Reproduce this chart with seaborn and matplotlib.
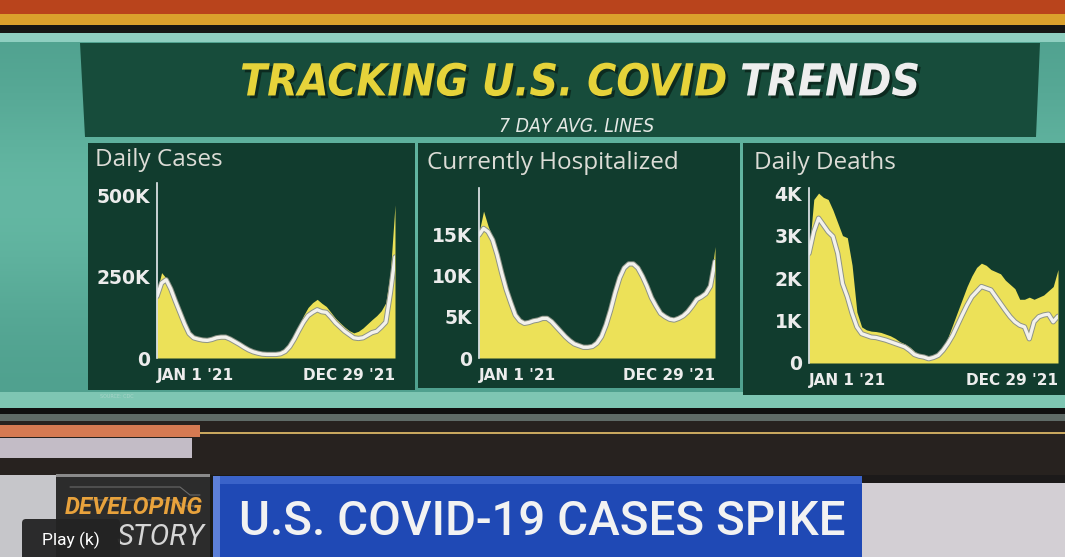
import numpy as np
import pandas as pd
import seaborn as sns
import matplotlib.pyplot as plt
import matplotlib.patheffects as pe
from matplotlib.patches import Rectangle, Polygon, FancyBboxPatch

W, H = 1065, 557

# weekly points, Jan 1 2021 .. Dec 31 2021
weeks = pd.date_range("2021-01-01", "2021-12-31", freq="7D")

# daily cases, thousands
cases_avg = [189, 230, 240, 212, 175, 140, 105, 75, 62, 58, 55, 54, 57, 62, 64, 64, 58, 50,
             42, 33, 25, 19, 15, 12, 11, 11, 11, 13, 20, 35, 58, 85, 110, 130, 140, 148, 142,
             140, 125, 108, 95, 82, 72, 62, 60, 62, 70, 78, 82, 95, 110, 200, 310]
cases_daily = [205, 262, 245, 218, 180, 145, 110, 80, 66, 62, 58, 58, 62, 67, 69, 67, 61, 52,
               44, 35, 27, 21, 16, 13, 12, 12, 12, 15, 24, 42, 68, 100, 130, 155, 170, 180, 168,
               158, 140, 122, 108, 95, 84, 77, 82, 92, 105, 118, 130, 145, 170, 265, 470]

# currently hospitalized, thousands
hosp_avg = [14.9, 15.7, 15.3, 14.3, 12.5, 10.3, 8.3, 6.7, 5.2, 4.5, 4.2, 4.3, 4.5, 4.6, 4.8,
            4.8, 4.4, 3.8, 3.2, 2.6, 2.1, 1.7, 1.5, 1.3, 1.3, 1.4, 1.8, 2.6, 4.0, 5.8, 7.9, 9.7,
            10.9, 11.4, 11.4, 10.9, 9.9, 8.7, 7.3, 6.3, 5.4, 5.0, 4.7, 4.6, 4.8, 5.1, 5.6, 6.3,
            7.1, 7.4, 7.8, 8.7, 11.7]
hosp_daily = [15.2, 17.8, 16.0, 14.6, 12.8, 10.6, 8.6, 6.9, 5.4, 4.7, 4.4, 4.5, 4.7, 4.8, 5.0,
              5.0, 4.6, 4.0, 3.4, 2.8, 2.3, 1.9, 1.6, 1.5, 1.5, 1.6, 2.0, 2.8, 4.2, 6.0, 8.1, 9.9,
              11.1, 11.6, 11.6, 11.1, 10.1, 8.9, 7.5, 6.5, 5.6, 5.2, 4.9, 4.8, 5.0, 5.3, 5.8, 6.5,
              7.3, 7.2, 8.0, 9.0, 13.5]

# daily deaths, thousands
deaths_avg = [2.58, 3.09, 3.41, 3.25, 3.09, 2.98, 2.58, 1.87, 1.56, 1.17, 0.85, 0.69, 0.65,
              0.61, 0.60, 0.57, 0.54, 0.50, 0.46, 0.42, 0.38, 0.30, 0.20, 0.16, 0.14, 0.10,
              0.13, 0.18, 0.30, 0.46, 0.65, 0.89, 1.13, 1.36, 1.56, 1.68, 1.80, 1.76, 1.72,
              1.56, 1.40, 1.24, 1.09, 0.97, 0.89, 0.85, 0.57, 0.97, 1.09, 1.13, 1.15, 0.97, 1.10]
deaths_daily = [2.60, 3.85, 4.00, 3.90, 3.85, 3.60, 3.30, 3.00, 2.95, 2.30, 1.20, 0.85, 0.78,
                0.75, 0.74, 0.72, 0.68, 0.64, 0.58, 0.50, 0.45, 0.38, 0.28, 0.20, 0.17, 0.13,
                0.15, 0.22, 0.36, 0.60, 0.90, 1.20, 1.50, 1.80, 2.05, 2.25, 2.35, 2.30, 2.20,
                2.15, 2.10, 1.95, 1.85, 1.75, 1.50, 1.50, 1.55, 1.50, 1.55, 1.60, 1.70, 1.80, 2.20]

panel_titles = ["Daily Cases", "Currently Hospitalized", "Daily Deaths"]
series = [(cases_avg, cases_daily), (hosp_avg, hosp_daily), (deaths_avg, deaths_daily)]
y_ticks = [[0, 250, 500], [0, 5, 10, 15], [0, 1, 2, 3, 4]]
y_labels = [["0", "250K", "500K"], ["0", "5K", "10K", "15K"], ["0", "1K", "2K", "3K", "4K"]]
y_tops = [537, 20.6, 4.12]
x_labels = ["JAN 1 '21", "DEC 29 '21"]

sns.set_theme(style="white")
plt.rcParams["font.family"] = ["DejaVu Sans"]

YELLOW = "#ece158"
LINE = "#f3f1ec"
PANEL = "#113c2e"
TEAL = "#5fae9c"
NARROW = ["Liberation Sans Narrow", "DejaVu Sans"]

fig = plt.figure(figsize=(W / 100, H / 100), dpi=100)
fig.patch.set_facecolor("#1a1a18")

bg = fig.add_axes([0, 0, 1, 1])
bg.axis("off")


def box(x0, y0, x1, y1, color, **kw):
    bg.add_patch(Rectangle((x0, y0), x1 - x0, y1 - y0, facecolor=color, lw=0, **kw))


def fit(t, width):
    # shrink/grow a text so it spans the given pixel width
    r = fig.canvas.get_renderer()
    w = t.get_window_extent(r).width
    t.set_fontsize(t.get_fontsize() * width / w)


# studio lights above the screen
box(0, 0, W, 14, "#b9441c")
box(0, 14, W, 25, "#dba12c")
box(0, 25, W, 33, "#161614")
# video wall with a soft glow on the left
glow = np.linspace(0, 1, 256)
glow = np.exp(-((glow - 0.45) / 0.3) ** 2)
wall = np.array([[0x4f, 0xa0, 0x8e]]) / 255 + glow[:, None] * np.array([[0.08, 0.09, 0.08]])
bg.imshow(wall[:, None, :], extent=(0, W, 408, 33), aspect="auto", interpolation="bilinear")
box(0, 33, W, 42, "#8fcfc0")
box(0, 392, W, 408, "#7ec6b3")
# title panel
bg.add_patch(Polygon([(80, 43), (1040, 43), (1036, 137), (85, 137)], closed=True,
                     facecolor="#174c3b", lw=0))
# chart panels
box(88, 143, 415, 390, PANEL)
box(418, 143, 740, 388, PANEL)
box(743, 143, W, 395, PANEL)

# desk / lower area
box(0, 408, W, 414, "#101010")
box(0, 414, W, 421, "#5f6b67")
box(0, 421, W, 475, "#27221f")
box(0, 432, W, 434, "#c8a75e")
box(0, 425, 200, 437, "#d57a52")
box(0, 438, 192, 458, "#c3bcc6")
box(0, 475, 56, H, "#c6c6ca")
box(56, 474, 210, H, "#2c2c2c")
box(56, 474, 210, 477, "#8a8a8a")
bg.plot([70, 180, 190, 200], [487, 487, 495, 495], color="#6a6a6a", lw=0.8)
bg.plot([90, 175, 185, 200], [500, 500, 506, 506], color="#6a6a6a", lw=0.8)
box(213, 476, 862, H, "#1f49b5")
box(213, 476, 220, H, "#5c7fd8")
box(220, 476, 862, 484, "#3a63c9")
box(862, 475, W, 483, "#1c1a1a")
box(862, 483, W, H, "#d3cfd4")

bg.set_xlim(0, W)
bg.set_ylim(H, 0)

# headline
title_fx = [pe.withSimplePatchShadow(offset=(2, -2), shadow_rgbFace="#0a2219", alpha=0.8)]
t1 = bg.text(727, 83, "TRACKING U.S. COVID", ha="right", va="center", fontsize=38,
             fontweight="heavy", fontstyle="italic", fontstretch="condensed",
             color="#e6d33a", family=NARROW, path_effects=title_fx)
t2 = bg.text(740, 83, "TRENDS", ha="left", va="center", fontsize=38,
             fontweight="heavy", fontstyle="italic", fontstretch="condensed",
             color="#eeeeee", family=NARROW, path_effects=title_fx)
fit(t1, 487)
t2.set_fontsize(t1.get_fontsize())
sub = bg.text(577, 127, "7 DAY AVG. LINES", ha="center", va="center", fontsize=12,
              fontstyle="italic", fontstretch="condensed", color="#e4e8e4", family=NARROW)
fit(sub, 155)

title_pos = [(95, 160), (427, 163), (754, 163)]
for (tx, ty), name in zip(title_pos, panel_titles):
    bg.text(tx, ty, name, ha="left", va="center", fontsize=17.5, color="#dcdcd6",
            family=["Open Sans", "DejaVu Sans"])
bg.text(100, 396, "SOURCE: CDC", ha="left", va="center", fontsize=3.5, color="#a8d4c8")

# lower third
dev = bg.text(134, 508, "DEVELOPING", ha="center", va="center", fontsize=12.5,
              fontweight="bold", fontstyle="italic", color="#e8a23c",
              family=["Roboto", "DejaVu Sans"])
fit(dev, 138)
story = bg.text(204, 537, "STORY", ha="right", va="center", fontsize=17,
                fontstyle="italic", color="#d6d6d6", family=["Roboto", "DejaVu Sans"])
fit(story, 88)
head = bg.text(542, 522, "U.S. COVID-19 CASES SPIKE", ha="center", va="center",
               fontsize=30, fontweight="medium", color="#f2f2f2",
               family=["Roboto", "DejaVu Sans"])
fit(head, 606)
bg.add_patch(FancyBboxPatch((22, 519), 98, 45, boxstyle="round,pad=0,rounding_size=4",
                            facecolor="#232323", edgecolor="none", alpha=0.95, zorder=5))
bg.text(71, 540, "Play (k)", ha="center", va="center", fontsize=12.5, color="#ffffff",
        family=["Roboto", "DejaVu Sans"], zorder=6)

# the three charts
axes_px = [(157, 183, 395, 358), (479, 188, 715, 358), (809, 188, 1058, 363)]
line_fx = [pe.Stroke(linewidth=3.8, foreground="#8d9387"), pe.Normal()]

for (x0, y0, x1, y1), (avg, daily), ticks, labels, top in zip(
        axes_px, series, y_ticks, y_labels, y_tops):
    ax = fig.add_axes([x0 / W, 1 - y1 / H, (x1 - x0) / W, (y1 - y0) / H])
    ax.set_facecolor("none")
    df = pd.DataFrame({"date": weeks, "avg": avg, "daily": daily})
    ax.fill_between(df["date"], df["daily"], color=YELLOW, lw=0)
    sns.lineplot(data=df, x="date", y="avg", ax=ax, color=LINE, lw=2.4,
                 path_effects=line_fx)
    ax.set_xlim(weeks[0], weeks[-1])
    ax.set_ylim(0, top)
    ax.set_xlabel("")
    ax.set_ylabel("")
    for s in ["top", "right", "bottom"]:
        ax.spines[s].set_visible(False)
    ax.spines["left"].set_color("#e8ecf0")
    ax.spines["left"].set_linewidth(1.2)
    ax.set_yticks(ticks)
    ax.set_yticklabels(labels)
    ax.set_xticks([weeks[0], weeks[-1]])
    ax.set_xticklabels(x_labels)
    ax.get_xticklabels()[0].set_ha("left")
    ax.get_xticklabels()[1].set_ha("right")
    ax.tick_params(axis="y", length=0, pad=5, labelsize=13.5, labelcolor="#ececec")
    ax.tick_params(axis="x", length=0, pad=7, labelsize=11, labelcolor="#ececec")
    for t in ax.get_yticklabels() + ax.get_xticklabels():
        t.set_fontweight("bold")
    ax.grid(False)

fig.savefig("out.png", dpi=100, facecolor=fig.get_facecolor())
